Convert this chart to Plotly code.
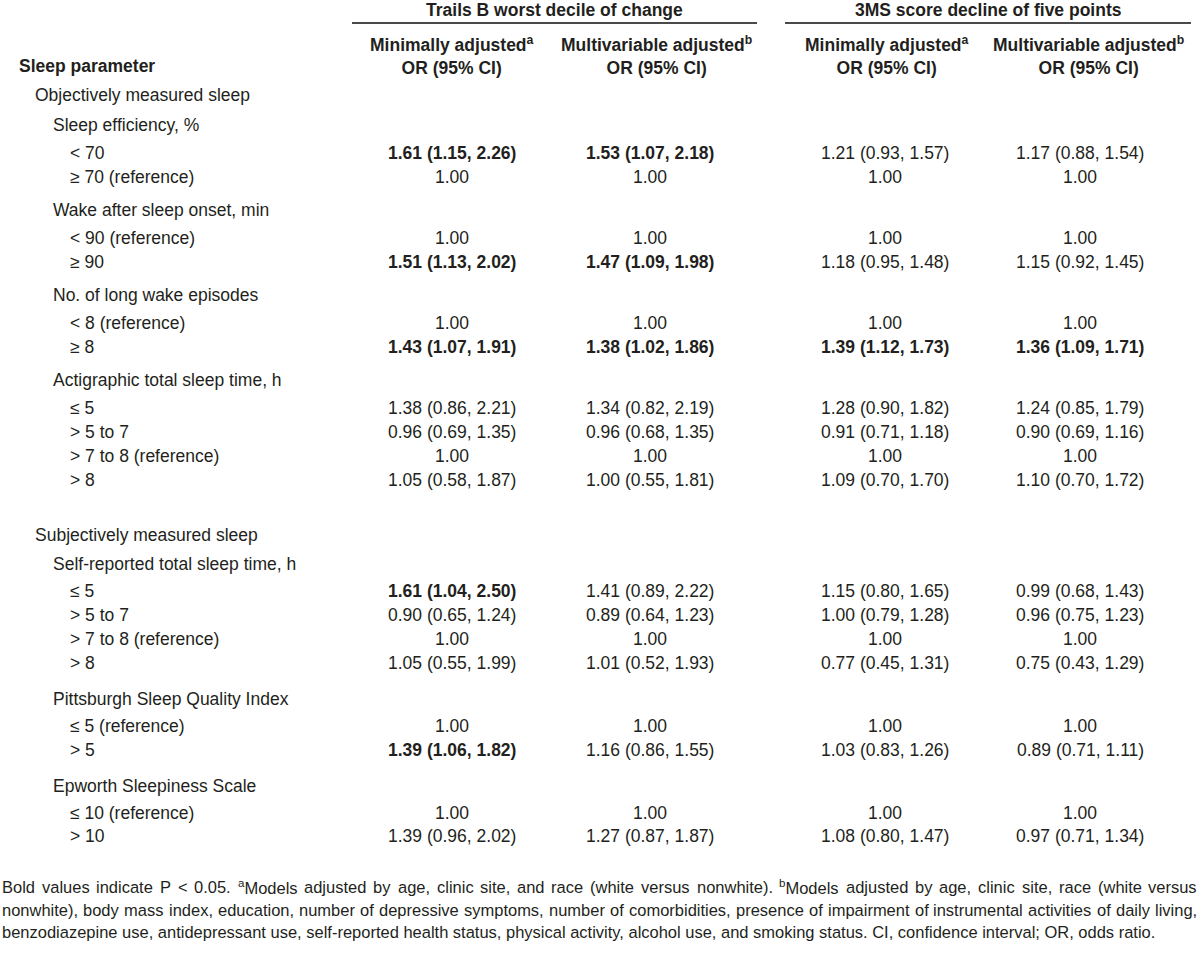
import plotly.graph_objects as go

FONT = "Liberation Sans, Arial, sans-serif"

group_titles = ["Trails B worst decile of change", "3MS score decline of five points"]
col_headers = ["Minimally adjusted<sup>a</sup><br>OR (95% CI)",
               "Multivariable adjusted<sup>b</sup><br>OR (95% CI)",
               "Minimally adjusted<sup>a</sup><br>OR (95% CI)",
               "Multivariable adjusted<sup>b</sup><br>OR (95% CI)"]
stub_header = "Sleep parameter"

row_labels = [
    "Objectively measured sleep", "Sleep efficiency, %", "< 70", "≥ 70 (reference)",
    "Wake after sleep onset, min", "< 90 (reference)", "≥ 90",
    "No. of long wake episodes", "< 8 (reference)", "≥ 8",
    "Actigraphic total sleep time, h", "≤ 5", "> 5 to 7", "> 7 to 8 (reference)", "> 8",
    "Subjectively measured sleep", "Self-reported total sleep time, h", "≤ 5", "> 5 to 7",
    "> 7 to 8 (reference)", "> 8",
    "Pittsburgh Sleep Quality Index", "≤ 5 (reference)", "> 5",
    "Epworth Sleepiness Scale", "≤ 10 (reference)", "> 10",
]
row_levels = [1, 2, 3, 3, 2, 3, 3, 2, 3, 3, 2, 3, 3, 3, 3, 1, 2, 3, 3, 3, 3, 2, 3, 3, 2, 3, 3]

trails_min = ["", "", "1.61 (1.15, 2.26)", "1.00", "", "1.00", "1.51 (1.13, 2.02)", "", "1.00",
              "1.43 (1.07, 1.91)", "", "1.38 (0.86, 2.21)", "0.96 (0.69, 1.35)", "1.00",
              "1.05 (0.58, 1.87)", "", "", "1.61 (1.04, 2.50)", "0.90 (0.65, 1.24)", "1.00",
              "1.05 (0.55, 1.99)", "", "1.00", "1.39 (1.06, 1.82)", "", "1.00", "1.39 (0.96, 2.02)"]
trails_multi = ["", "", "1.53 (1.07, 2.18)", "1.00", "", "1.00", "1.47 (1.09, 1.98)", "", "1.00",
                "1.38 (1.02, 1.86)", "", "1.34 (0.82, 2.19)", "0.96 (0.68, 1.35)", "1.00",
                "1.00 (0.55, 1.81)", "", "", "1.41 (0.89, 2.22)", "0.89 (0.64, 1.23)", "1.00",
                "1.01 (0.52, 1.93)", "", "1.00", "1.16 (0.86, 1.55)", "", "1.00", "1.27 (0.87, 1.87)"]
ms_min = ["", "", "1.21 (0.93, 1.57)", "1.00", "", "1.00", "1.18 (0.95, 1.48)", "", "1.00",
          "1.39 (1.12, 1.73)", "", "1.28 (0.90, 1.82)", "0.91 (0.71, 1.18)", "1.00",
          "1.09 (0.70, 1.70)", "", "", "1.15 (0.80, 1.65)", "1.00 (0.79, 1.28)", "1.00",
          "0.77 (0.45, 1.31)", "", "1.00", "1.03 (0.83, 1.26)", "", "1.00", "1.08 (0.80, 1.47)"]
ms_multi = ["", "", "1.17 (0.88, 1.54)", "1.00", "", "1.00", "1.15 (0.92, 1.45)", "", "1.00",
            "1.36 (1.09, 1.71)", "", "1.24 (0.85, 1.79)", "0.90 (0.69, 1.16)", "1.00",
            "1.10 (0.70, 1.72)", "", "", "0.99 (0.68, 1.43)", "0.96 (0.75, 1.23)", "1.00",
            "0.75 (0.43, 1.29)", "", "1.00", "0.89 (0.71, 1.11)", "", "1.00", "0.97 (0.71, 1.34)"]
# significant (bold) cells: (row index, column index)
bold_cells = [(2, 0), (2, 1), (6, 0), (6, 1), (9, 0), (9, 1), (9, 2), (9, 3), (17, 0), (23, 0)]

footnote_lines = [
    "Bold values indicate P < 0.05. <sup>a</sup>Models adjusted by age, clinic site, and race (white versus nonwhite). "
    "<sup>b</sup>Models adjusted by age, clinic site, race (white versus",
    "nonwhite), body mass index, education, number of depressive symptoms, number of comorbidities, presence of impairment of instrumental activities of daily living,",
    "benzodiazepine use, antidepressant use, self-reported health status, physical activity, alcohol use, and smoking status. CI, confidence interval; OR, odds ratio.",
]
footnote_justified = [True, True, False]

# ---- layout parameters (pixels) ----
W, H = 1200, 961
FS = 17.5
col_x = [452, 650, 885, 1080]
head_x = [452, 656, 887, 1088]
group_span = [(352, 757), (785, 1191)]
indent_x = {1: 33, 2: 51, 3: 68}
FOOT_RIGHT = 1195
FOOT_LAST_W = 1155

# Arial / Liberation Sans advance widths (1/1000 em)
_AW = {" ": 278, "!": 278, "(": 333, ")": 333, ",": 278, "-": 333, ".": 278, ";": 278, ":": 278,
       "<": 584, ">": 584, "%": 889, "0": 556}
for ch in "123456789":
    _AW[ch] = 556
_AW.update(dict(zip("ABCDEFGHIJKLMNOPQRSTUVWXYZ",
                    [667, 667, 722, 722, 667, 611, 778, 722, 278, 500, 667, 556, 833, 722, 778, 667,
                     778, 722, 667, 611, 722, 667, 944, 667, 667, 611])))
_AW.update(dict(zip("abcdefghijklmnopqrstuvwxyz",
                    [556, 556, 500, 556, 556, 278, 556, 556, 222, 222, 500, 222, 833, 556, 556, 556,
                     556, 333, 500, 278, 556, 500, 722, 500, 500, 500])))


def text_em(s):
    total, scale, i = 0.0, 1.0, 0
    while i < len(s):
        if s.startswith("<sup>", i):
            scale, i = 0.7, i + 5
            continue
        if s.startswith("</sup>", i):
            scale, i = 1.0, i + 6
            continue
        total += _AW.get(s[i], 556) * scale / 1000.0
        i += 1
    return total


FOOT_FS = FOOT_LAST_W / text_em(footnote_lines[2])

ys = []
y = 95
for i, lvl in enumerate(row_levels):
    if i > 0:
        prev = row_levels[i - 1]
        if lvl == 1:
            gap = 55
        elif lvl == 2:
            gap = 29.5 if prev == 1 else (36 if i > 15 else 33)
        else:
            gap = (28 if i < 15 else 27) if prev == 2 else (24 if i < 24 else 23)
        y += gap
    ys.append(y)

fig = go.Figure()
fig.add_trace(go.Scatter(x=[0, W], y=[0, H], mode="markers", marker=dict(opacity=0),
                         hoverinfo="skip", showlegend=False))

ann = []
for (x0, x1), t in zip(group_span, group_titles):
    ann.append(dict(x=(x0 + x1) / 2, y=10, text=f"<b>{t}</b>", xanchor="center", yanchor="middle"))
    fig.add_shape(type="line", x0=x0, x1=x1, y0=23, y1=23, line=dict(color="#4a4a4a", width=2))
for hx, h in zip(head_x, col_headers):
    ann.append(dict(x=hx, y=55, text=f"<b>{h}</b>", xanchor="center", yanchor="middle"))
ann.append(dict(x=17, y=66, text=f"<b>{stub_header}</b>", xanchor="left", yanchor="middle"))

cols = [trails_min, trails_multi, ms_min, ms_multi]
for i, (lab, lvl) in enumerate(zip(row_labels, row_levels)):
    ann.append(dict(x=indent_x[lvl], y=ys[i], text=lab, xanchor="left", yanchor="middle"))
    for c, vals in enumerate(cols):
        v = vals[i]
        if not v:
            continue
        txt = f"<b>{v}</b>" if (i, c) in bold_cells else v
        ann.append(dict(x=col_x[c], y=ys[i], text=txt, xanchor="center", yanchor="middle"))

# footnote: justified lines built word by word
for k, (line, just) in enumerate(zip(footnote_lines, footnote_justified)):
    fy = 887 + 22.5 * k
    if not just:
        ann.append(dict(x=0, y=fy, text=line, xanchor="left", yanchor="middle",
                        font=dict(size=FOOT_FS)))
        continue
    words = line.split(" ")
    widths = [text_em(w) * FOOT_FS for w in words]
    space = (FOOT_RIGHT - sum(widths)) / (len(words) - 1)
    x = 0.0
    for w, wd in zip(words, widths):
        ann.append(dict(x=x, y=fy, text=w, xanchor="left", yanchor="middle",
                        font=dict(size=FOOT_FS)))
        x += wd + space

for a in ann:
    a.setdefault("font", dict(size=FS))
    a["font"] = dict(family=FONT, color="#231f20", **a["font"])
    a.update(showarrow=False, xref="x", yref="y")

fig.update_layout(
    width=W, height=H, margin=dict(l=0, r=0, t=0, b=0),
    paper_bgcolor="white", plot_bgcolor="white",
    xaxis=dict(range=[0, W], visible=False, fixedrange=True),
    yaxis=dict(range=[H, 0], visible=False, fixedrange=True),
    annotations=ann,
)
fig.write_html("out.html", config={"displayModeBar": False},
               post_script="document.body.style.margin='0';document.body.style.overflow='hidden';")
